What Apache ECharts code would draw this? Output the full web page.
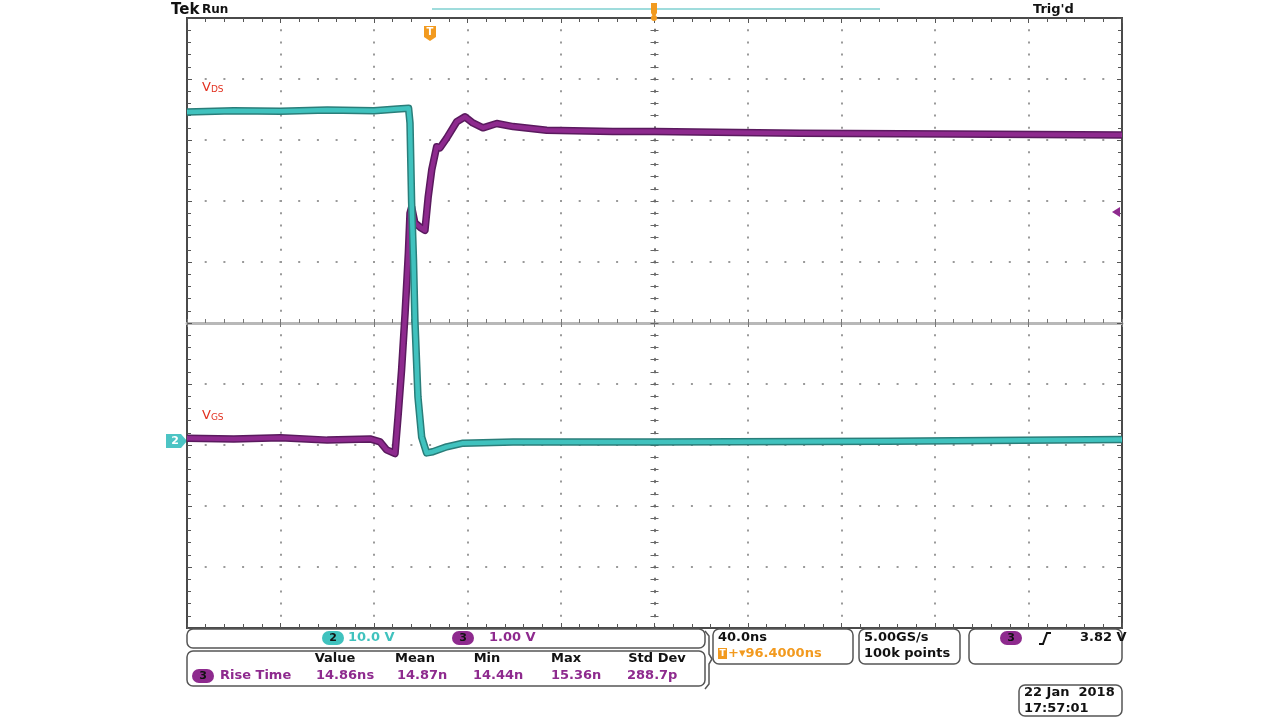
<!DOCTYPE html>
<html>
<head>
<meta charset="utf-8">
<script src="https://cdn.jsdelivr.net/npm/echarts@6/dist/echarts.min.js"></script>
<style>
html,body{margin:0;padding:0;background:#fff;}
#c{width:1280px;height:721px;}
</style>
</head>
<body>
<div id="c"></div>
<script>
// ---- data (time in ns relative to screen centre, volts) ----
const vdsTime = [-200,-180,-160,-140,-120,-110,-105.2,-104.6,-103.9,-103.1,-102.5,-101.2,-99.6,-97.5,-94.8,-88.9,-81.9,-60.5,0,100,200];
const vdsVolts = [53.6,53.8,53.7,53.9,53.8,54.1,54.2,51.8,38.7,29.3,19.5,6.9,0.3,-2.3,-2.1,-1.3,-0.7,-0.5,-0.5,-0.4,-0.1];

const vgsTime = [-200,-180,-160,-140,-121.7,-117.4,-114.6,-111,-110.2,-109.6,-108.2,-106.7,-105.3,-104.6,-103.9,-102.5,-100.3,-98.2,-96.8,-95.3,-93.2,-91.8,-88.9,-84.6,-81.1,-77.7,-73.4,-67.5,-60.5,-46.1,-17.8,0,62.2,126.4,200];
const vgsVolts = [0.11,0.10,0.12,0.08,0.10,0.05,-0.08,-0.14,-0.11,0.52,1.23,2.16,3.15,3.80,3.90,3.64,3.57,3.52,4.07,4.51,4.89,4.87,5.03,5.30,5.38,5.28,5.20,5.27,5.22,5.16,5.14,5.14,5.11,5.10,5.08];

// scope settings
const timePerDiv = 40;       // ns/div
const ch2VoltsPerDiv = 10;   // V/div
const ch3VoltsPerDiv = 1;    // V/div
const ch2GroundDiv = -1.9;
const ch3GroundDiv = -2;

const headers = ['Value','Mean','Min','Max','Std Dev'];
const riseTimeStats = ['14.86ns','14.87n','14.44n','15.36n','288.7p'];

const zip = (a,b) => a.map((x,i)=>[x,b[i]]);
const vdsData = zip(vdsTime, vdsVolts);
const vgsData = zip(vgsTime, vgsVolts);

const FONT = 'DejaVu Sans';
const PURPLE = '#8e2a8e';
const CYAN = '#40c2be';
const ORANGE = '#f29a1f';

const chart = echarts.init(document.getElementById('c'));

const grid = {left:187, right:158, top:18, bottom:93, show:true, borderColor:'#4a4a4a', borderWidth:2, backgroundColor:'#fff'};

function xAx(extra){
  return Object.assign({type:'value', min:-5*timePerDiv, max:5*timePerDiv, interval:timePerDiv,
    axisLabel:{show:false}, splitLine:{show:false}}, extra);
}
function yDivAx(extra){
  return Object.assign({type:'value', min:-5, max:5, interval:1,
    axisLabel:{show:false}, splitLine:{show:false}}, extra);
}
const borderTick = {show:true, inside:true, length:5, lineStyle:{color:'#555', width:1}};
const borderMinor = {show:true, splitNumber:5, length:4, lineStyle:{color:'#555', width:1}};

const option = {
  animation:false,
  grid: grid,
  xAxis: [
    xAx({position:'bottom', axisLine:{onZero:false, lineStyle:{color:'#4a4a4a', width:2}},
      axisTick:borderTick, minorTick:borderMinor,
      splitLine:{show:true, lineStyle:{color:'#9a9a9a', width:2, type:[2,10.2], dashOffset:1}}}),
    xAx({position:'top', axisLine:{onZero:false, lineStyle:{color:'#4a4a4a', width:2}},
      axisTick:borderTick, minorTick:borderMinor}),
    // centre horizontal line (ticks up)
    xAx({position:'bottom', axisLine:{onZero:true, onZeroAxisIndex:0, lineStyle:{color:'#b8b8b8', width:3}},
      axisTick:{show:true, inside:true, length:4, lineStyle:{color:'#777', width:1}},
      minorTick:{show:true, splitNumber:5, length:4, lineStyle:{color:'#777', width:1}}}),
    // centre horizontal line (ticks down)
    xAx({position:'bottom', axisLine:{onZero:true, onZeroAxisIndex:0, lineStyle:{color:'#b8b8b8', width:0}},
      axisTick:{show:true, inside:false, length:4, lineStyle:{color:'#777', width:1}},
      minorTick:{show:false}})
  ],
  yAxis: [
    yDivAx({position:'left', axisLine:{onZero:false, lineStyle:{color:'#4a4a4a', width:2}},
      axisTick:borderTick, minorTick:borderMinor,
      splitLine:{show:true, lineStyle:{color:'#9a9a9a', width:2, type:[2,16.7], dashOffset:1}}}),
    yDivAx({position:'right', axisLine:{onZero:false, lineStyle:{color:'#4a4a4a', width:2}},
      axisTick:borderTick, minorTick:borderMinor}),
    // centre vertical line
    yDivAx({position:'left', axisLine:{onZero:true, onZeroAxisIndex:0, lineStyle:{color:'#666', width:1.5, type:[2,10.2], dashOffset:1}},
      axisTick:{show:true, inside:true, length:4, lineStyle:{color:'#666', width:1}},
      minorTick:{show:true, splitNumber:5, length:4, lineStyle:{color:'#666', width:1}}}),
    yDivAx({position:'left', axisLine:{onZero:true, onZeroAxisIndex:0, lineStyle:{width:0}},
      axisTick:{show:true, inside:false, length:4, lineStyle:{color:'#666', width:1}},
      minorTick:{show:true, splitNumber:5, length:4, lineStyle:{color:'#666', width:1}}}),
    // channel 2 (VDS) volts
    {type:'value', show:false, min:(-5-ch2GroundDiv)*ch2VoltsPerDiv, max:(5-ch2GroundDiv)*ch2VoltsPerDiv, splitLine:{show:false}},
    // channel 3 (VGS) volts
    {type:'value', show:false, min:(-5-ch3GroundDiv)*ch3VoltsPerDiv, max:(5-ch3GroundDiv)*ch3VoltsPerDiv, splitLine:{show:false}}
  ],
  series: [
    {type:'line', name:'VGS edge', yAxisIndex:5, data:vgsData, showSymbol:false, z:3,
      lineStyle:{color:'#5a1a5e', width:7.5, join:'round'}, silent:true},
    {type:'line', name:'VGS', yAxisIndex:5, data:vgsData, showSymbol:false, z:4,
      lineStyle:{color:PURPLE, width:4.5, join:'round'}, silent:true},
    {type:'line', name:'VDS edge', yAxisIndex:4, data:vdsData, showSymbol:false, z:5,
      lineStyle:{color:'#2a7e7a', width:7.5, join:'round'}, silent:true},
    {type:'line', name:'VDS', yAxisIndex:4, data:vdsData, showSymbol:false, z:6,
      lineStyle:{color:CYAN, width:4.5, join:'round'}, silent:true}
  ]
};

// ---- overlay annotations ----
const txt = (x,y,text,opt) => Object.assign({type:'text', x:x, y:y, z:100,
  style:Object.assign({text:text, font:'bold 13px "'+FONT+'"', fill:'#111', textVerticalAlign:'middle'}, opt||{})});
const box = (x,y,w,h,r) => ({type:'rect', z:90, shape:{x:x,y:y,width:w,height:h,r:r||5},
  style:{fill:'none', stroke:'#555', lineWidth:1.5}});
const badge = (cx,cy,label,color) => ({type:'group', z:100, children:[
  {type:'rect', shape:{x:cx-11,y:cy-7,width:22,height:14,r:7}, style:{fill:color}},
  {type:'text', x:cx, y:cy, style:{text:label, font:'bold 11px "'+FONT+'"', fill:'#111', textAlign:'center', textVerticalAlign:'middle'}}
]});

const graphics = [
  // header
  txt(171,10,'Tek',{font:'bold 15px "'+FONT+'"'}),
  txt(202,10,'Run',{font:'bold 12px "'+FONT+'"'}),
  txt(1033,10,"Trig'd",{font:'bold 13px "'+FONT+'"'}),
  {type:'line', z:50, shape:{x1:432,y1:9,x2:880,y2:9}, style:{stroke:'#9fdcdc', lineWidth:2}},
  {type:'polygon', z:101, shape:{points:[[651,3],[657,3],[657,13],[654,18],[651,13]]}, style:{fill:ORANGE}},
  {type:'circle', z:101, shape:{cx:654,cy:18,r:3}, style:{fill:ORANGE}},
  // trigger position marker
  {type:'group', z:101, children:[
    {type:'polygon', shape:{points:[[424,26],[436,26],[436,37],[430,41],[424,37]]}, style:{fill:ORANGE}},
    {type:'text', x:430, y:32, style:{text:'T', font:'bold 10px "'+FONT+'"', fill:'#fff', textAlign:'center', textVerticalAlign:'middle'}}
  ]},
  // trace labels
  {type:'text', x:202, y:88, z:100, style:{text:'{v|V}{s|DS}', textVerticalAlign:'middle',
    rich:{v:{font:'13px "'+FONT+'"', fill:'#e2301f', textFill:'#e2301f', color:'#e2301f'}, s:{font:'9px "'+FONT+'"', fill:'#e2301f', textFill:'#e2301f', color:'#e2301f', verticalAlign:'bottom'}}}},
  {type:'text', x:202, y:416, z:100, style:{text:'{v|V}{s|GS}', textVerticalAlign:'middle',
    rich:{v:{font:'13px "'+FONT+'"', fill:'#e2301f', textFill:'#e2301f', color:'#e2301f'}, s:{font:'9px "'+FONT+'"', fill:'#e2301f', textFill:'#e2301f', color:'#e2301f', verticalAlign:'bottom'}}}},
  // ch2 ground marker
  {type:'group', z:101, children:[
    {type:'polygon', shape:{points:[[166,434],[181,434],[187,441],[181,448],[166,448]]}, style:{fill:'#4cc4c4'}},
    {type:'text', x:175, y:441, style:{text:'2', font:'bold 11px "'+FONT+'"', fill:'#fff', textAlign:'center', textVerticalAlign:'middle'}}
  ]},
  // trigger level marker
  {type:'polygon', z:101, shape:{points:[[1112,212],[1120,207],[1120,217]]}, style:{fill:PURPLE}},

  // bottom status boxes
  box(187,629,518,19,6),
  box(187,651,518,35,6),
  {type:'polyline', z:90, shape:{points:[[705,631],[709,636],[709,654],[712,659],[709,664],[709,684],[705,689]]}, style:{stroke:'#555', lineWidth:1.5, fill:'none'}},
  box(713,629,140,35,6),
  box(859,629,101,35,6),
  box(969,629,153,35,6),
  box(1019,685,103,31,6),

  badge(333,638,'2',CYAN),
  txt(348,638,'10.0 V',{fill:CYAN}),
  badge(463,638,'3',PURPLE),
  txt(489,638,'1.00 V',{fill:PURPLE}),

  badge(203,676,'3',PURPLE),
  txt(220,676,'Rise Time',{fill:PURPLE}),

  txt(718,638,'40.0ns'),
  {type:'group', z:101, children:[
    {type:'rect', shape:{x:718,y:648,width:9,height:11}, style:{fill:ORANGE}},
    {type:'text', x:722.5, y:654, style:{text:'T', font:'bold 9px "'+FONT+'"', fill:'#fff', textAlign:'center', textVerticalAlign:'middle'}}
  ]},
  txt(728,654,'+\u25BE96.4000ns',{fill:ORANGE}),

  txt(864,638,'5.00GS/s'),
  txt(864,654,'100k points'),

  badge(1011,638,'3',PURPLE),
  {type:'polyline', z:100, shape:{points:[[1039,644],[1043,644],[1047,633],[1051,633]]}, style:{stroke:'#111', lineWidth:2, fill:'none'}},
  txt(1080,638,'3.82 V'),

  txt(1024,693,'22 Jan  2018'),
  txt(1024,709,'17:57:01')
];
const headerX = [335,415,487,566,657];
const valueX = [316,397,473,551,627];
headers.forEach((h,i)=>graphics.push(txt(headerX[i],659,h,{textAlign:'center'})));
riseTimeStats.forEach((v,i)=>graphics.push(txt(valueX[i],676,v,{fill:PURPLE})));

option.graphic = graphics;
chart.setOption(option);
</script>
</body>
</html>
